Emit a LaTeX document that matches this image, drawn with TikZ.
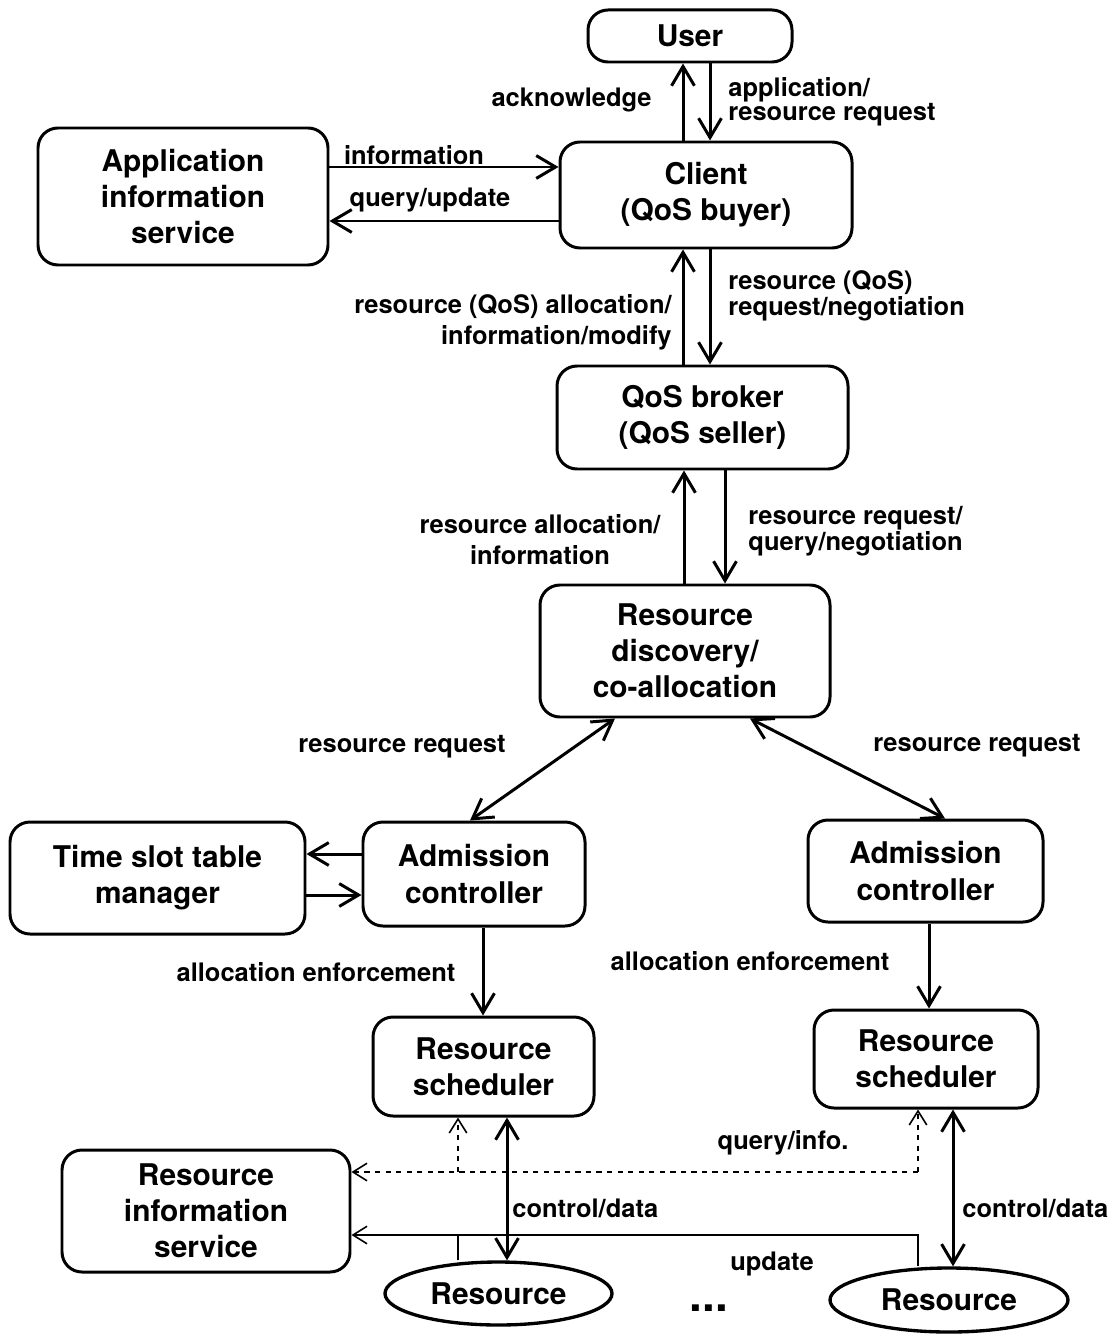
\documentclass[tikz,border=0pt]{standalone}
\usepackage{fontspec}
\setmainfont{TeX Gyre Heros}
\usetikzlibrary{shapes.geometric, arrows.meta}
\tikzstyle{box} = [rectangle, rounded corners=0.4cm, draw, line width=1.7pt, align=center, font=\bfseries\fontsize{17}{20.5}\selectfont]
\tikzstyle{res} = [ellipse, draw, line width=1.9pt, font=\bfseries\fontsize{17}{20.5}\selectfont]
\tikzstyle{lbl} = [font=\bfseries\fontsize{14.5}{17.5}\selectfont, inner sep=0pt]
\tikzstyle{tight} = [font=\bfseries\fontsize{14.5}{11}\selectfont, inner sep=0pt, align=left]
\tikzstyle{arrow} = [line width=1.7pt, -{Straight Barb[length=11pt,width=13pt]}]
\tikzstyle{twoway} = [line width=1.7pt, {Straight Barb[length=11pt,width=13pt]}-{Straight Barb[length=11pt,width=13pt]}]
\tikzstyle{info} = [line width=0.9pt, -{Straight Barb[length=8pt,width=10pt]}]

\begin{document}
\begin{tikzpicture}
        \useasboundingbox (0,0) rectangle (22.32,-26.74);
        \node [box, minimum width=4.08cm, minimum height=1.04cm] at (13.80,-0.72) (user) {User};
        \node [box, minimum width=5.84cm, minimum height=2.12cm] at (14.12,-3.90) (client) {Client\\(QoS buyer)};
        \node [box, minimum width=5.80cm, minimum height=2.74cm] at (3.66,-3.93) (appinfo) {Application\\information\\service};
        \node [box, minimum width=5.82cm, minimum height=2.06cm] at (14.05,-8.35) (broker) {QoS broker\\(QoS seller)};
        \node [box, minimum width=5.80cm, minimum height=2.64cm] at (13.70,-13.02) (discovery) {Resource\\discovery/\\co-allocation};
        \node [box, minimum width=4.44cm, minimum height=2.08cm] at (9.48,-17.48) (admitL) {Admission\\controller};
        \node [box, minimum width=5.90cm, minimum height=2.24cm] at (3.15,-17.56) (timeslot) {Time slot table\\manager};
        \node [box, minimum width=4.70cm, minimum height=2.04cm] at (18.51,-17.42) (admitR) {Admission\\controller};
        \node [box, minimum width=4.42cm, minimum height=1.98cm] at (9.67,-21.33) (schedL) {Resource\\scheduler};
        \node [box, minimum width=4.48cm, minimum height=1.96cm] at (18.52,-21.18) (schedR) {Resource\\scheduler};
        \node [box, minimum width=5.76cm, minimum height=2.44cm] at (4.12,-24.22) (ris) {Resource\\information\\service};
        \node [res, minimum width=4.54cm, minimum height=1.26cm] at (9.97,-25.87) (resL) {Resource};
        \node [res, minimum width=4.76cm, minimum height=1.28cm] at (18.98,-26.00) (resR) {Resource};
        \node [font=\bfseries\fontsize{26}{26}\selectfont, anchor=base] at (14.18,-26.22) (dots) {...};

        \draw [arrow] (client.north -| 13.66,0) -- (user.south -| 13.66,0);
        \draw [arrow] (user.south -| 14.20,0) -- (client.north -| 14.20,0);
        \draw [arrow] (appinfo.east |- 0,-3.34) -- (client.west |- 0,-3.34);
        \draw [arrow] (client.west |- 0,-4.42) -- (appinfo.east |- 0,-4.42);
        \draw [arrow] (broker.north -| 13.66,0) -- (client.south -| 13.66,0);
        \draw [arrow] (client.south -| 14.20,0) -- (broker.north -| 14.20,0);
        \draw [arrow] (discovery.north -| 13.68,0) -- (broker.south -| 13.68,0);
        \draw [arrow] (broker.south -| 14.50,0) -- (discovery.north -| 14.50,0);
        \draw [twoway] (discovery.south -| 12.30,0) -- (admitL.north -| 9.40,0);
        \draw [twoway] (discovery.south -| 15.00,0) -- (admitR.north -| 18.90,0);
        \draw [arrow] (admitL.west |- 0,-17.08) -- (timeslot.east |- 0,-17.08);
        \draw [arrow] (timeslot.east |- 0,-17.90) -- (admitL.west |- 0,-17.90);
        \draw [arrow] (admitL.south -| 9.66,0) -- (schedL.north -| 9.66,0);
        \draw [arrow] (admitR.south -| 18.58,0) -- (schedR.north -| 18.58,0);
        \draw [twoway] (schedL.south -| 10.14,0) -- (resL.north -| 10.14,0);
        \draw [twoway] (schedR.south -| 19.06,0) -- (resR.north -| 19.06,0);

        \coordinate (qR) at (18.36,-23.44);
        \coordinate (qL) at (9.16,-23.44);
        \coordinate (uL) at (9.16,-24.70);
        \draw [info, dashed] (qR) -- (schedR.south -| qR);
        \draw [info, dashed] (qR) -- (ris.east |- qR);
        \draw [info, dashed] (qL) -- (schedL.south -| qL);
        \draw [info] (resR.north -| qR) |- (ris.east |- uL);
        \draw [line width=0.9pt] (resL.north -| uL) -- (uL);

        \node [lbl, anchor=east] at (13.04,-2.00) {acknowledge};
        \node [tight, anchor=west] at (14.56,-2.04) {application/\\resource request};
        \node [lbl] at (8.28,-3.10) {information};
        \node [lbl] at (8.60,-4.00) {query/update};
        \node [lbl, anchor=east, align=right] at (13.44,-6.44) {resource (QoS) allocation/\\information/modify};
        \node [tight, anchor=west] at (14.56,-5.91) {resource (QoS)\\request/negotiation};
        \node [lbl, align=center] at (10.80,-10.79) {resource allocation/\\information};
        \node [tight, anchor=west] at (14.96,-10.62) {resource request/\\query/negotiation};
        \node [lbl] at (8.04,-14.94) {resource request};
        \node [lbl] at (19.54,-14.92) {resource request};
        \node [lbl] at (6.32,-19.44) {allocation enforcement};
        \node [lbl] at (15.00,-19.22) {allocation enforcement};
        \node [lbl] at (15.66,-22.86) {query/info.};
        \node [lbl, anchor=west] at (10.24,-24.16) {control/data};
        \node [lbl, anchor=west] at (19.24,-24.16) {control/data};
        \node [lbl] at (15.44,-25.28) {update};
\end{tikzpicture}
\end{document}
